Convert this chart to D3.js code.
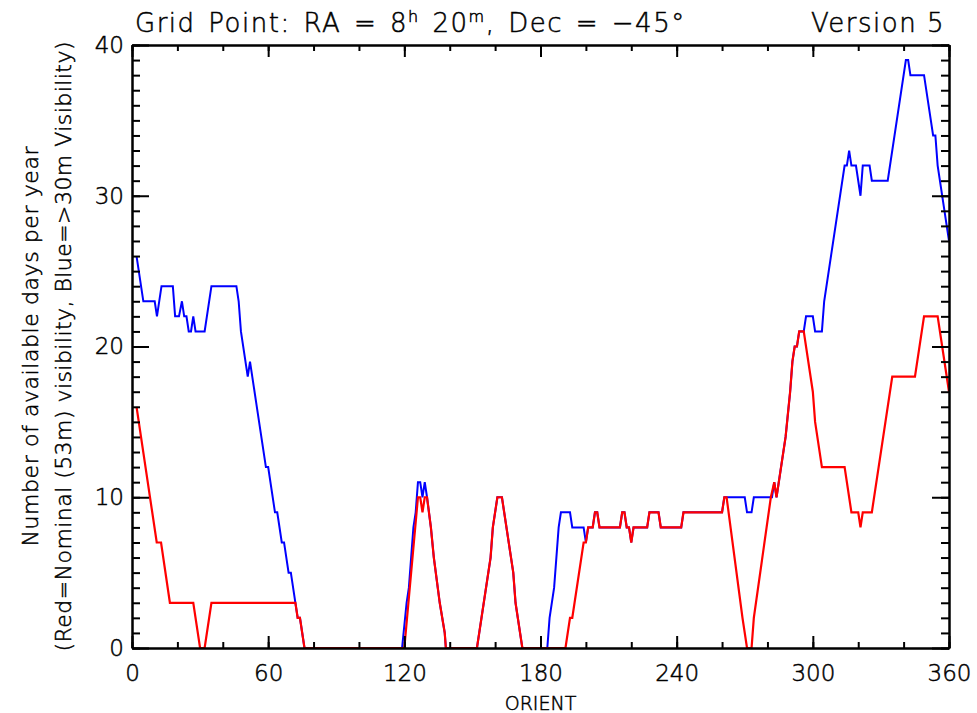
<!DOCTYPE html>
<meta charset="utf-8">
<script src="https://d3js.org/d3.v7.min.js"></script>
<style>
  body { margin: 0; background: #fff; }
  text { font-family: "DejaVu Sans", "Liberation Sans", sans-serif; font-weight: 200; fill: #000; stroke: #000; stroke-width: 0.5px; }
</style>
<div id="my_dataviz"></div>
<script>

// orient (deg) and days per year at each vertex of the curves
var redOrient = [2, 10.9, 12.8, 16.7, 27, 30, 32, 35, 72, 73, 74, 76, 120, 126, 127, 128, 129, 130,
  131.7, 133, 135.6, 137.8, 138.3, 152, 158, 159, 161, 163, 168, 169, 172, 191, 193, 194, 199, 200,
  201, 203, 204, 205, 206, 215, 216, 217, 218, 219, 220, 221, 227, 228, 232, 233, 242, 243, 260, 261,
  262, 269, 271, 273, 274, 281.5, 283, 284, 288, 290, 291, 292, 293, 294, 296, 300, 301, 304, 314,
  317, 320, 321, 322, 326, 335, 345, 349, 355, 360];
var redDays = [16, 7, 7, 3, 3, 0, 0, 3, 3, 2, 2, 0, 0, 10, 10, 9, 10, 10,
  8, 6, 3, 1, 0, 0, 6, 8, 10, 10, 5, 3, 0, 0, 2, 2, 7, 7,
  8, 8, 9, 9, 8, 8, 9, 9, 8, 8, 7, 8, 8, 9, 9, 8, 8, 9, 9, 10,
  10, 2, 0, 0, 2, 10, 11, 10, 14, 17, 19, 20, 20, 21, 21, 17, 15, 12, 12,
  9, 9, 8, 9, 9, 18, 18, 22, 22, 17];

var blueOrient = [2, 5, 10, 11, 13, 18, 19, 20.7, 22, 23, 24, 25, 26, 27, 28, 32, 35, 46, 47, 48,
  51, 52, 55, 59, 60, 63, 64, 66, 67, 69, 70, 72, 73, 74, 76, 119, 121, 122, 124, 125, 126, 127,
  128, 129, 130, 131.7, 133, 135.6, 137.8, 138.3, 152, 158, 159, 161, 163, 168, 169, 172, 183, 184,
  186, 188, 189, 193, 194, 199, 200, 201, 203, 204, 205, 206, 215, 216, 217, 218, 219, 220, 221,
  227, 228, 232, 233, 242, 243, 260, 261, 270, 271, 273, 274, 282, 283, 284, 288, 290, 291, 292,
  293, 294, 296, 297, 300, 301, 304, 305, 314, 315, 316, 317, 319, 321, 322, 325, 326, 333, 341,
  342, 343, 349, 353, 354, 355, 360];
var blueDays = [26, 23, 23, 22, 24, 24, 22, 22, 23, 22, 22, 21, 21, 22, 21, 21, 24, 24, 23, 21,
  18, 19, 16, 12, 12, 9, 9, 7, 7, 5, 5, 3, 2, 2, 0, 0, 3, 4, 8, 9, 11, 11,
  10, 11, 10, 8, 6, 3, 1, 0, 0, 6, 8, 10, 10, 5, 3, 0, 0, 2,
  4, 8, 9, 9, 8, 8, 7, 8, 8, 9, 9, 8, 8, 9, 9, 8, 8, 7, 8,
  8, 9, 9, 8, 8, 9, 9, 10, 10, 9, 9, 10, 10, 11, 10, 14, 17, 19, 20,
  20, 21, 21, 22, 22, 21, 21, 23, 32, 32, 33, 32, 32, 30, 32, 32, 31, 31, 39,
  39, 38, 38, 34, 34, 32, 27];

var xTickLabels = [0, 60, 120, 180, 240, 300, 360];
var yTickLabels = [0, 10, 20, 30, 40];

var width = 977, height = 713;

var svg = d3.select("#my_dataviz")
  .append("svg")
    .attr("width", width)
    .attr("height", height);

var x = d3.scaleLinear().domain([0, 360]).range([132, 949]);
var y = d3.scaleLinear().domain([0, 40]).range([648, 45]);

// clip the curves to the plot box so the zero runs hide under the frame
svg.append("clipPath")
  .attr("id", "plotclip")
  .append("rect")
    .attr("x", x(0))
    .attr("y", y(40))
    .attr("width", x(360) - x(0))
    .attr("height", y(0) - y(40));

var line = d3.line()
  .x(function(d) { return x(d[0]) })
  .y(function(d) { return y(d[1]) });

var curves = svg.append("g").attr("clip-path", "url(#plotclip)");

curves.append("path")
  .datum(d3.zip(blueOrient, blueDays))
  .attr("fill", "none")
  .attr("stroke", "#0000ff")
  .attr("stroke-width", 2)
  .attr("d", line);

// a touch wider so the blue underneath doesn't fringe it
curves.append("path")
  .datum(d3.zip(redOrient, redDays))
  .attr("fill", "none")
  .attr("stroke", "#ff0000")
  .attr("stroke-width", 2.2)
  .attr("d", line);

// minor ticks (no labels)
svg.append("g")
  .attr("transform", "translate(0," + y(0) + ")")
  .call(d3.axisBottom(x).tickValues(d3.range(0, 361, 20)).tickSize(-6).tickSizeOuter(0).tickFormat(""));
svg.append("g")
  .attr("transform", "translate(0," + y(40) + ")")
  .call(d3.axisTop(x).tickValues(d3.range(0, 361, 20)).tickSize(-6).tickSizeOuter(0).tickFormat(""));
svg.append("g")
  .attr("transform", "translate(" + x(0) + ",0)")
  .call(d3.axisLeft(y).tickValues(d3.range(0, 41, 1)).tickSize(-8).tickSizeOuter(0).tickFormat(""));
svg.append("g")
  .attr("transform", "translate(" + x(360) + ",0)")
  .call(d3.axisRight(y).tickValues(d3.range(0, 41, 1)).tickSize(-8).tickSizeOuter(0).tickFormat(""));

// major ticks + labels
svg.append("g")
  .attr("transform", "translate(0," + y(0) + ")")
  .call(d3.axisBottom(x).tickValues(xTickLabels).tickSize(-12).tickSizeOuter(0).tickPadding(17));
svg.append("g")
  .attr("transform", "translate(0," + y(40) + ")")
  .call(d3.axisTop(x).tickValues(xTickLabels).tickSize(-12).tickSizeOuter(0).tickFormat(""));
svg.append("g")
  .attr("transform", "translate(" + x(0) + ",0)")
  .call(d3.axisLeft(y).tickValues(yTickLabels).tickSize(-17).tickSizeOuter(0).tickPadding(8));
svg.append("g")
  .attr("transform", "translate(" + x(360) + ",0)")
  .call(d3.axisRight(y).tickValues(yTickLabels).tickSize(-17).tickSizeOuter(0).tickFormat(""));

svg.selectAll(".domain, .tick line")
  .attr("stroke", "#000")
  .attr("stroke-width", 2);
svg.selectAll(".tick text")
  .style("font-family", "DejaVu Sans, sans-serif")
  .style("font-weight", 200)
  .style("font-size", "23px")
  .attr("fill", "#000");

// title
var title = svg.append("text")
  .attr("x", 135)
  .attr("y", 32)
  .style("font-size", "26px")
  .style("letter-spacing", "1.5px")
  .style("word-spacing", "3px");
title.append("tspan").text("Grid Point: RA = 8");
title.append("tspan").attr("dy", -10).style("font-size", "16px").text("h");
title.append("tspan").attr("dy", 10).text(" 20");
title.append("tspan").attr("dy", -10).style("font-size", "16px").text("m");
title.append("tspan").attr("dy", 10).text(", Dec = \u221245\u00b0");

svg.append("text")
  .attr("x", 945)
  .attr("y", 32)
  .attr("text-anchor", "end")
  .style("font-size", "26px")
  .style("letter-spacing", "1.5px")
  .text("Version 5");

// axis titles
svg.append("text")
  .attr("x", x(180))
  .attr("y", 710)
  .attr("text-anchor", "middle")
  .style("font-size", "19px")
  .text("ORIENT");

svg.append("text")
  .attr("transform", "translate(38," + y(20) + ") rotate(-90)")
  .attr("text-anchor", "middle")
  .attr("textLength", 400)
  .style("font-size", "22px")
  .text("Number of available days per year");

svg.append("text")
  .attr("transform", "translate(71," + y(20) + ") rotate(-90)")
  .attr("text-anchor", "middle")
  .attr("textLength", 610)
  .style("font-size", "22px")
  .text("(Red=Nominal (53m) visibility, Blue=>30m Visibility)");

</script>
